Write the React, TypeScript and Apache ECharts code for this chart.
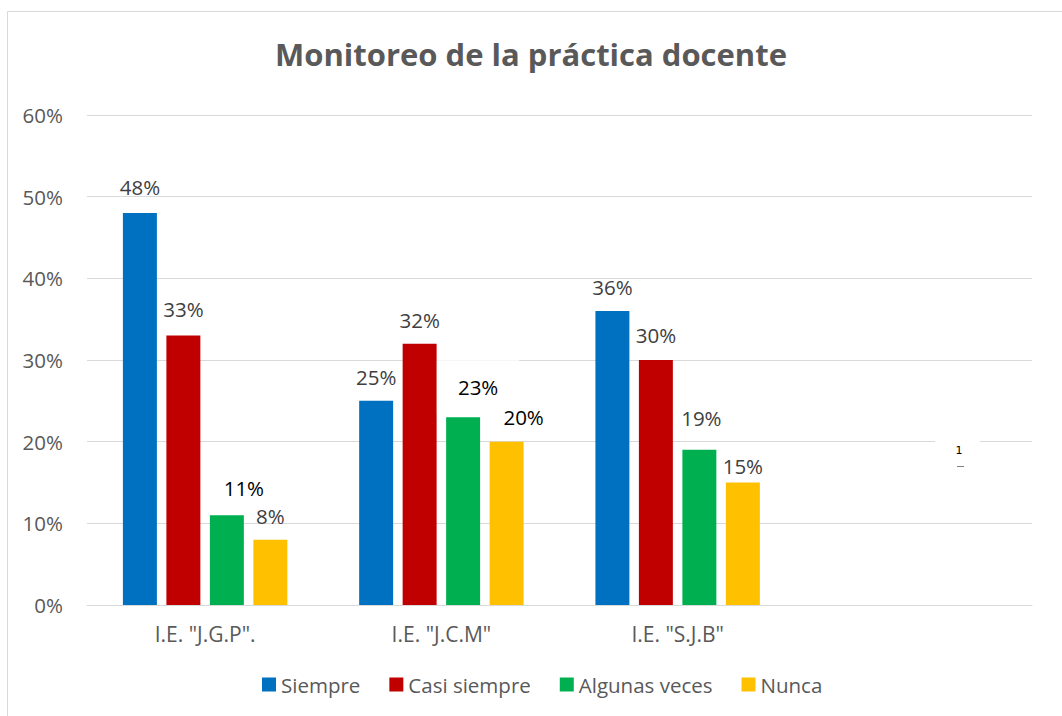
import React, { useEffect, useRef } from "react";
import * as echarts from "echarts";

const categories = ['I.E. "J.G.P".', 'I.E. "J.C.M"', 'I.E. "S.J.B"', ""];
const seriesNames = ["Siempre", "Casi siempre", "Algunas veces", "Nunca"];
const siempre = [48, 25, 36, null];
const casiSiempre = [33, 32, 30, null];
const algunasVeces = [11, 23, 19, null];
const nunca = [8, 20, 15, null];
const yTicks = [0, 10, 20, 30, 40, 50, 60];
const colors = ["#0070C0", "#C00000", "#00B050", "#FFC000"];

// label shifts [dx, dy] relative to default top label, per series / category
const labelShift = [
  [[0, -2], [0, 0], [0, 0], [0, 0]],
  [[0, -3], [0, 0], [0, -1], [0, 0]],
  [[17, -3], [15, 10], [2, -8], [0, 0]],
  [[0, 0], [17, -1], [0, 7], [0, 0]],
];
const labelDark = [
  [false, false, false, false],
  [false, false, false, false],
  [true, true, false, false],
  [false, true, false, false],
];

export default function App() {
  const ref = useRef<HTMLDivElement>(null);
  useEffect(() => {
    const chart = echarts.init(ref.current!, null, { renderer: "svg" });
    const all = [siempre, casiSiempre, algunasVeces, nunca];
    const series = all.map((vals, si) => ({
      name: seriesNames[si],
      type: "bar",
      barGap: "28%",
      barCategoryGap: "30.4%",
      itemStyle: { color: colors[si] },
      data: vals.map((v, ci) => {
        const boxed = si === 2 && ci === 1;
        return {
          value: v,
          label: {
            offset: labelShift[si][ci],
            color: labelDark[si][ci] ? "#000000" : "#404040",
            ...(boxed
              ? { backgroundColor: "#ffffff", padding: [16, 21] }
              : {}),
          },
        };
      }),
      label: {
        show: true,
        position: "top",
        distance: 13,
        fontFamily: "Open Sans",
        fontSize: 20.5,
        lineHeight: 22,
        formatter: (p: any) => (p.value == null ? "" : `${p.value}%`),
      },
    }));
    chart.setOption({
      animation: false,
      backgroundColor: "#ffffff",
      title: {
        text: "Monitoreo de la práctica docente",
        left: "center",
        top: 33,
        textStyle: {
          fontFamily: "Open Sans",
          fontWeight: "bold",
          fontSize: 31,
          color: "#595959",
        },
      },
      grid: { left: 87, right: 30, top: 115, bottom: 111 },
      legend: {
        data: seriesNames,
        left: 257,
        top: 669,
        itemWidth: 14,
        itemHeight: 14,
        itemGap: 29,
        icon: "rect",
        textStyle: { fontFamily: "Open Sans", fontSize: 20.5, color: "#595959" },
      },
      xAxis: {
        type: "category",
        data: categories,
        axisLine: { lineStyle: { color: "#d9d9d9", width: 1 } },
        axisTick: { show: false },
        axisLabel: {
          fontFamily: "Open Sans",
          fontSize: 21,
          color: "#595959",
          margin: 18,
        },
      },
      yAxis: {
        type: "value",
        min: yTicks[0],
        max: yTicks[yTicks.length - 1],
        interval: 10,
        axisLine: { show: false },
        axisTick: { show: false },
        splitLine: { lineStyle: { color: "#d9d9d9", width: 1 } },
        axisLabel: {
          fontFamily: "Open Sans",
          fontSize: 20.5,
          color: "#595959",
          margin: 24,
          formatter: (v: number) => `${v}%`,
        },
      },
      graphic: [
        {
          type: "rect",
          shape: { x: 7.5, y: 11.5, width: 1100, height: 800 },
          style: { fill: "none", stroke: "#d9d9d9", lineWidth: 1 },
          silent: true,
          z: 100,
        },
        {
          type: "rect",
          shape: { x: 935, y: 436, width: 45, height: 10 },
          style: { fill: "#ffffff" },
          z: 100,
        },
        {
          type: "text",
          x: 959,
          y: 450,
          style: {
            text: "1",
            fontFamily: "DejaVu Sans",
            fontSize: 11,
            fill: "#000000",
            align: "center",
            verticalAlign: "middle",
          },
          z: 101,
        },
        {
          type: "line",
          shape: { x1: 957, y1: 466.5, x2: 964, y2: 466.5 },
          style: { stroke: "#808080", lineWidth: 1 },
          z: 101,
        },
      ],
      series,
    });
    return () => chart.dispose();
  }, []);
  return (
    <div
      ref={ref}
      style={{ position: "absolute", left: 0, top: 0, width: 1062, height: 716 }}
    />
  );
}
